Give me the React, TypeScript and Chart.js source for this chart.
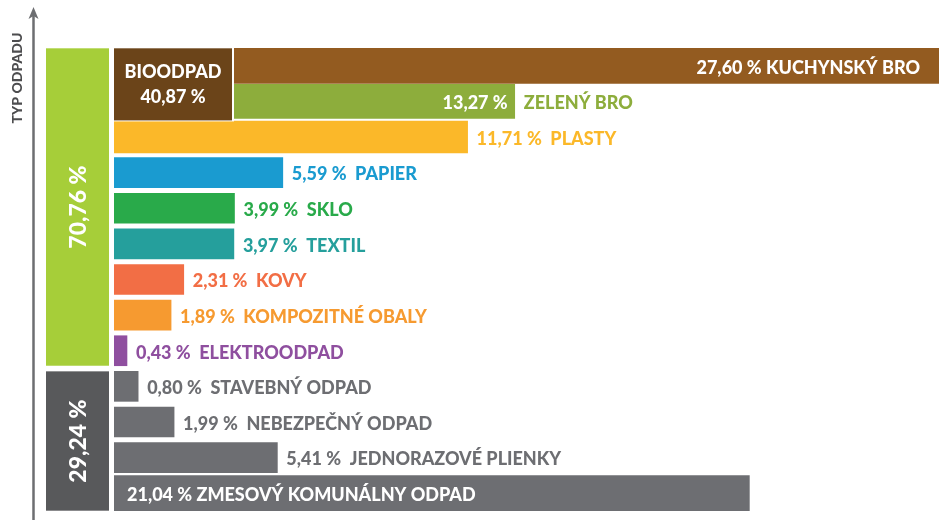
import React, { useEffect, useRef } from "react";
import { Chart, registerables } from "chart.js";
Chart.register(...registerables);

// ---- data ----
const categories = [
  "KUCHYNSKÝ BRO",
  "ZELENÝ BRO",
  "PLASTY",
  "PAPIER",
  "SKLO",
  "TEXTIL",
  "KOVY",
  "KOMPOZITNÉ OBALY",
  "ELEKTROODPAD",
  "STAVEBNÝ ODPAD",
  "NEBEZPEČNÝ ODPAD",
  "JEDNORAZOVÉ PLIENKY",
  "ZMESOVÝ KOMUNÁLNY ODPAD",
];
const values = [27.6, 13.27, 11.71, 5.59, 3.99, 3.97, 2.31, 1.89, 0.43, 0.8, 1.99, 5.41, 21.04];
const groupLabels = ["70,76 %", "29,24 %"];
const groupFirst = [0, 9];
const groupLast = [8, 12];
const bioTitle = "BIOODPAD";
const bioValue = "40,87 %";
const bioFirst = 0;
const bioLast = 1;
const axisTitle = "TYP ODPADU";

// ---- styles ----
const barColors = [
  "#935b20", "#8dad3c", "#fbb829", "#1a9bd0", "#29aa4a", "#259f9c",
  "#f26e45", "#f69a30", "#8f4f9f", "#6d6e72", "#6d6e72", "#6d6e72", "#6d6e72",
];
const labelColors = [
  "#ffffff", "#8dad3c", "#fbb829", "#1a9bd0", "#29aa4a", "#259f9c",
  "#f26e45", "#f69a30", "#8f4f9f", "#6d6e72", "#6d6e72", "#6d6e72", "#ffffff",
];
const labelMode = ["insideRight", "split", "out", "out", "out", "out", "out", "out", "out", "out", "out", "out", "insideLeft"];
const thickness = [35, 34, 32, 30, 30, 30, 30, 30, 30, 30, 30, 30, 35];
const groupColors = ["#a6ce39", "#58595b"];
const bioColor = "#6b4419";
const FONT = "Lato, 'Open Sans', sans-serif";
const W = 900;

const fmt = (v: number) => v.toFixed(2).replace(".", ",") + " %";

const decor = {
  id: "decor",
  beforeDatasetsDraw(chart: any) {
    const ctx = chart.ctx;
    const y = chart.scales.y;
    ctx.save();
    // axis with arrow
    ctx.strokeStyle = "#6d6e71";
    ctx.fillStyle = "#6d6e71";
    ctx.lineWidth = 2.5;
    ctx.beginPath();
    ctx.moveTo(33.5, 14);
    ctx.lineTo(33.5, 520);
    ctx.stroke();
    ctx.beginPath();
    ctx.moveTo(33.5, 7);
    ctx.lineTo(38.5, 19);
    ctx.lineTo(33.5, 16);
    ctx.lineTo(28.5, 19);
    ctx.closePath();
    ctx.fill();
    // axis title
    ctx.save();
    ctx.translate(17, 78);
    ctx.rotate(-Math.PI / 2);
    ctx.fillStyle = "#4d4d4f";
    ctx.font = `${W} 14px ${FONT}`;
    ctx.textAlign = "center";
    ctx.textBaseline = "middle";
    ctx.fillText(axisTitle, 0, 0);
    ctx.restore();
    // group blocks
    for (let g = 0; g < groupLabels.length; g++) {
      const top = y.getPixelForValue(groupFirst[g]) - thickness[groupFirst[g]] / 2;
      const bot = y.getPixelForValue(groupLast[g]) + thickness[groupLast[g]] / 2;
      ctx.fillStyle = groupColors[g];
      ctx.fillRect(46, top, 63, bot - top);
      ctx.save();
      ctx.translate(78, (top + bot) / 2);
      ctx.rotate(-Math.PI / 2);
      ctx.fillStyle = "#ffffff";
      ctx.font = `${W} 23px ${FONT}`;
      ctx.textAlign = "center";
      ctx.textBaseline = "middle";
      ctx.fillText(groupLabels[g], 0, 1);
      ctx.restore();
    }
    ctx.restore();
  },
  afterDatasetsDraw(chart: any) {
    const ctx = chart.ctx;
    const x = chart.scales.x;
    const y = chart.scales.y;
    const area = chart.chartArea;
    ctx.save();
    // bio box
    const bTop = y.getPixelForValue(bioFirst) - thickness[bioFirst] / 2;
    const bBot = y.getPixelForValue(bioLast) + thickness[bioLast] / 2 + 2;
    ctx.fillStyle = "#ffffff";
    ctx.fillRect(area.left, bTop - 1, 120, bBot - bTop + 2);
    ctx.fillStyle = bioColor;
    ctx.fillRect(area.left, bTop, 118, bBot - bTop);
    ctx.fillStyle = "#ffffff";
    ctx.font = `${W} 18px ${FONT}`;
    ctx.textAlign = "center";
    ctx.textBaseline = "middle";
    const bc = area.left + 59;
    const bm = (bTop + bBot) / 2;
    ctx.fillText(bioTitle, bc, bm - 12);
    ctx.fillText(bioValue, bc, bm + 13);

    // labels
    ctx.font = `${W} 18px ${FONT}`;
    ctx.textBaseline = "middle";
    for (let i = 0; i < values.length; i++) {
      const end = Math.min(x.getPixelForValue(values[i]), area.right);
      const cy = y.getPixelForValue(i) + 2;
      const valText = fmt(values[i]);
      const mode = labelMode[i];
      if (mode === "insideRight") {
        ctx.fillStyle = labelColors[i];
        ctx.textAlign = "right";
        ctx.fillText(valText + " " + categories[i], end - 19, cy);
      } else if (mode === "split") {
        ctx.fillStyle = "#ffffff";
        ctx.textAlign = "right";
        ctx.fillText(valText, end - 7, cy);
        ctx.fillStyle = labelColors[i];
        ctx.textAlign = "left";
        ctx.fillText(categories[i], end + 9, cy);
      } else if (mode === "insideLeft") {
        ctx.fillStyle = labelColors[i];
        ctx.textAlign = "left";
        ctx.fillText(valText + " " + categories[i], area.left + 13, cy);
      } else {
        ctx.fillStyle = labelColors[i];
        ctx.textAlign = "left";
        ctx.fillText(valText + "  " + categories[i], end + 9, cy);
      }
    }
    ctx.restore();
  },
};

export default function App() {
  const ref = useRef<HTMLCanvasElement>(null);
  useEffect(() => {
    if (!ref.current) return;
    const uniq = Array.from(new Set(thickness));
    const datasets = uniq.map((t) => ({
      label: "t" + t,
      data: values.map((v, i) => (thickness[i] === t ? v : null)),
      backgroundColor: barColors,
      barThickness: t,
      borderWidth: 0,
    }));
    const chart = new Chart(ref.current, {
      type: "bar",
      data: { labels: categories, datasets: datasets as any },
      options: {
        indexAxis: "y",
        animation: false,
        responsive: false,
        events: [],
        layout: { padding: { left: 114, top: 48, right: 0, bottom: 9 } },
        scales: {
          x: { display: false, min: 0, max: 27.32, stacked: false },
          y: { display: false, stacked: true },
        },
        plugins: {
          legend: { display: false },
          tooltip: { enabled: false },
          title: { display: false },
        },
      },
      plugins: [decor],
    });
    return () => chart.destroy();
  }, []);
  return (
    <div style={{ position: "fixed", left: 0, top: 0, width: 939, height: 520, background: "#ffffff" }}>
      <canvas ref={ref} width={939} height={520} style={{ display: "block" }} />
    </div>
  );
}
